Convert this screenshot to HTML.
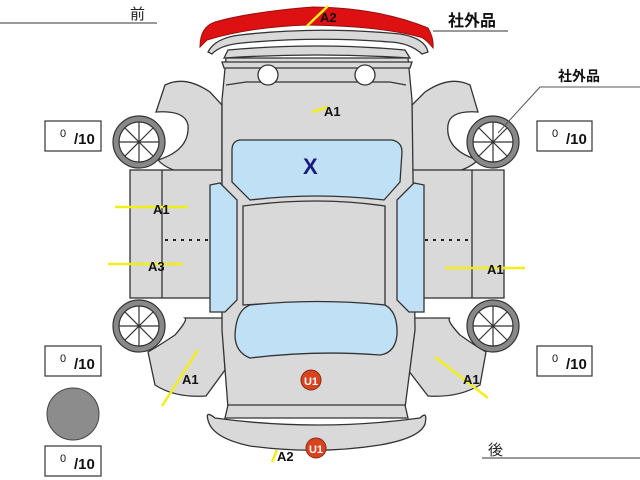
<!DOCTYPE html>
<html><head><meta charset="utf-8"><style>
body{margin:0;background:#fff;width:640px;height:480px;overflow:hidden}
svg{display:block}
text{font-family:"Liberation Sans","Noto Sans CJK JP",sans-serif}
</style></head><body>
<svg width="640" height="480" viewBox="0 0 640 480" xmlns="http://www.w3.org/2000/svg">
<g stroke="#333" stroke-width="1.3" fill="#d9d9d9">
<!-- front fenders -->
<path d="M165,85 Q185,75 210,92 L222,105 L222,172 L180,172 Q165,168 158,160 Q190,150 188,125 Q185,110 156,112 Z"/>
<path d="M470,85 Q450,75 425,92 L412,105 L412,172 L455,172 Q470,168 478,160 Q445,150 448,125 Q450,110 478,112 Z"/>
<!-- side panels -->
<rect x="130" y="170" width="92" height="128"/>
<line x1="162" y1="170" x2="162" y2="298"/>
<rect x="412" y="170" width="92" height="128"/>
<line x1="472" y1="170" x2="472" y2="298"/>
<!-- rear fenders -->
<path d="M148,352 Q160,345 175,335 Q188,320 185,318 L222,318 L225,370 L206,396 Q175,398 155,385 Z"/>
<path d="M486,352 Q474,345 460,335 Q446,320 450,318 L412,318 L408,370 L428,396 Q458,398 480,385 Z"/>
<!-- body -->
<path d="M226,58 L408,58 L412,100 L415,330 L405,408 L228,408 L222,330 L222,100 Z"/>
<!-- front bumper layers -->
<path d="M208,52 Q215,38 240,35 Q317,26 400,34 Q425,38 428,52 L422,54 Q410,43 390,42 Q317,36 242,43 Q220,45 212,54 Z"/>
<path d="M224,58 L228,50 Q317,42 405,50 L410,58 Q317,52 224,58 Z"/>
<path d="M222,62 L412,62 L410,68 L224,68 Z"/>
<path d="M226,85 L246,82 L390,82 L406,85"/>
<!-- rear bumper -->
<path d="M228,405 L405,405 L408,418 L225,418 Z"/>
<path d="M208,420 Q205,410 215,418 Q317,432 420,418 Q428,410 425,424 Q420,438 380,445 Q317,455 250,446 Q212,438 208,420 Z"/>
</g>
<!-- red spoiler -->
<path d="M200,47 Q200,27 215,22 Q250,12 313,7 Q380,8 428,28 Q434,38 433,48 Q425,38 420,37 Q380,26 307,25 Q250,27 207,40 Z" fill="#dd1111" stroke="#991010"/>
<!-- headlights -->
<circle cx="268" cy="75" r="10" fill="#fff" stroke="#333" stroke-width="1.3"/>
<circle cx="365" cy="75" r="10" fill="#fff" stroke="#333" stroke-width="1.3"/>
<!-- windows -->
<g stroke="#333" stroke-width="1.3">
<path d="M240,140 L392,140 Q402,142 402,152 L400,182 L384,200 Q317,192 250,200 L232,182 L232,150 Q232,141 240,140 Z" fill="#bfe0f5"/>
<path d="M243,206 Q317,196 385,206 L385,305 Q317,300 243,305 Z" fill="#d9d9d9"/>
<path d="M210,185 L220,183 L237,200 L237,300 L225,312 L210,312 Z" fill="#bfe0f5"/>
<path d="M424,185 L414,183 L397,200 L397,300 L409,312 L424,312 Z" fill="#bfe0f5"/>
<path d="M250,305 Q317,298 385,305 Q398,312 397,335 Q395,353 380,355 Q317,350 250,358 Q235,352 235,335 Q236,310 250,305 Z" fill="#bfe0f5"/>
</g>
<!-- dotted lines -->
<line x1="165" y1="240" x2="210" y2="240" stroke="#222" stroke-width="2" stroke-dasharray="3,5"/>
<line x1="425" y1="240" x2="470" y2="240" stroke="#222" stroke-width="2" stroke-dasharray="3,5"/>
<!-- wheels -->
<g stroke="#333" stroke-width="1.2">
<g transform="translate(139,142)"><circle r="26" fill="#888"/><circle r="20" fill="#fff"/><path d="M0,-20V20M-20,0H20M-14,-14L14,14M-14,14L14,-14"/></g>
<g transform="translate(493,142)"><circle r="26" fill="#888"/><circle r="20" fill="#fff"/><path d="M0,-20V20M-20,0H20M-14,-14L14,14M-14,14L14,-14"/></g>
<g transform="translate(139,326)"><circle r="26" fill="#888"/><circle r="20" fill="#fff"/><path d="M0,-20V20M-20,0H20M-14,-14L14,14M-14,14L14,-14"/></g>
<g transform="translate(493,326)"><circle r="26" fill="#888"/><circle r="20" fill="#fff"/><path d="M0,-20V20M-20,0H20M-14,-14L14,14M-14,14L14,-14"/></g>
</g>
<!-- yellow marks -->
<g stroke="#f2ee1a" stroke-width="2.5">
<line x1="307" y1="26" x2="328" y2="6"/>
<line x1="312" y1="112" x2="328" y2="107"/>
<line x1="115" y1="207" x2="188" y2="207"/>
<line x1="108" y1="264" x2="183" y2="264"/>
<line x1="445" y1="268" x2="525" y2="268"/>
<line x1="162" y1="406" x2="198" y2="350"/>
<line x1="435" y1="357" x2="488" y2="398"/>
<line x1="272" y1="462" x2="277" y2="450"/>
</g>
<!-- labels -->
<g font-weight="bold" font-size="13" fill="#111">
<text x="320" y="22">A2</text>
<text x="324" y="116">A1</text>
<text x="153" y="214">A1</text>
<text x="148" y="271">A3</text>
<text x="487" y="274">A1</text>
<text x="182" y="384">A1</text>
<text x="463" y="384">A1</text>
<text x="277" y="461">A2</text>
</g>
<text x="303" y="174" font-size="22" font-weight="bold" fill="#1a1a80">X</text>
<!-- U1 -->
<g><circle cx="311" cy="380" r="10" fill="#d9441f" stroke="#8a2a10"/><text x="311" y="385" font-size="11" font-weight="bold" fill="#fff" text-anchor="middle">U1</text></g>
<g><circle cx="316" cy="448" r="10" fill="#d9441f" stroke="#8a2a10"/><text x="316" y="453" font-size="11" font-weight="bold" fill="#fff" text-anchor="middle">U1</text></g>
<!-- score boxes -->
<g stroke="#333" stroke-width="1.2" fill="#fff">
<rect x="45" y="121" width="56" height="30"/><rect x="537" y="121" width="55" height="30"/>
<rect x="45" y="346" width="56" height="30"/><rect x="537" y="346" width="55" height="30"/>
<rect x="45" y="446" width="56" height="30"/>
</g>
<g fill="#111">
<text x="60" y="137" font-size="11">0</text><text x="74" y="144" font-size="15" font-weight="bold">/10</text>
<text x="552" y="137" font-size="11">0</text><text x="566" y="144" font-size="15" font-weight="bold">/10</text>
<text x="60" y="362" font-size="11">0</text><text x="74" y="369" font-size="15" font-weight="bold">/10</text>
<text x="552" y="362" font-size="11">0</text><text x="566" y="369" font-size="15" font-weight="bold">/10</text>
<text x="60" y="462" font-size="11">0</text><text x="74" y="469" font-size="15" font-weight="bold">/10</text>
</g>
<circle cx="73" cy="414" r="26" fill="#8c8c8c" stroke="#444"/>
<!-- header texts -->
<text x="130" y="19" font-size="15" fill="#222">前</text>
<line x1="0" y1="23" x2="157" y2="23" stroke="#333"/>
<text x="488" y="455" font-size="15" fill="#222">後</text>
<line x1="482" y1="458" x2="640" y2="458" stroke="#333"/>
<text x="448" y="26" font-size="16" font-weight="bold" fill="#111">社外品</text>
<line x1="433" y1="31" x2="508" y2="31" stroke="#333"/>
<text x="558" y="81" font-size="14" font-weight="bold" fill="#111">社外品</text>
<line x1="540" y1="87" x2="640" y2="87" stroke="#555"/>
<line x1="540" y1="87" x2="498" y2="133" stroke="#555"/>
</svg>
</body></html>
